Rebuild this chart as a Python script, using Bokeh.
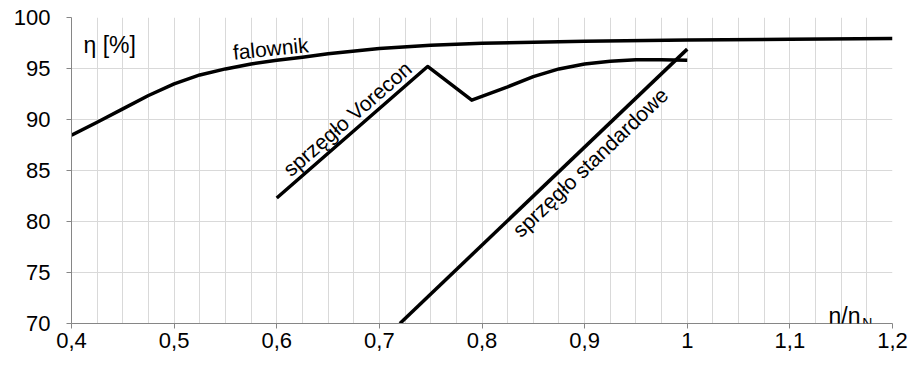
from bokeh.plotting import figure
from bokeh.models import FixedTicker, CustomJSTickFormatter, Label, Range1d
from bokeh.embed import file_html
from bokeh.resources import INLINE
import math

# ---- data ----
falownik_x = [0.40, 0.425, 0.45, 0.475, 0.50, 0.525, 0.55, 0.575, 0.60, 0.625, 0.65, 0.70, 0.75,
              0.80, 0.90, 1.00, 1.10, 1.20]
falownik_y = [88.45, 89.73, 91.04, 92.35, 93.5, 94.37, 94.96, 95.45, 95.8, 96.1, 96.45, 96.95, 97.28,
              97.48, 97.67, 97.8, 97.87, 97.94]

vorecon_x = [0.60, 0.747, 0.790, 0.825, 0.85, 0.875, 0.90, 0.925, 0.95, 0.975, 1.00]
vorecon_y = [82.3, 95.2, 91.9, 93.2, 94.2, 94.96, 95.45, 95.7, 95.85, 95.85, 95.8]

standard_x = [0.72, 1.00]
standard_y = [70.0, 96.9]

x_ticks = [0.4, 0.5, 0.6, 0.7, 0.8, 0.9, 1.0, 1.1, 1.2]
y_ticks = [70, 75, 80, 85, 90, 95, 100]
x_grid = [round(0.4 + 0.025 * i, 3) for i in range(33)]

FONT = "Liberation Sans"

p = figure(width=912, height=369, output_backend="svg", toolbar_location=None,
           x_range=Range1d(0.4, 1.2), y_range=Range1d(70, 100),
           min_border_left=71, min_border_right=20, min_border_top=17, min_border_bottom=46)
p.outline_line_color = None
p.background_fill_color = "white"
p.border_fill_color = "white"

p.xaxis.ticker = FixedTicker(ticks=x_ticks)
p.yaxis.ticker = FixedTicker(ticks=y_ticks)
p.xaxis.formatter = CustomJSTickFormatter(code="""
const v = Math.round(tick*10)/10;
return v.toString().replace('.', ',');
""")
for ax in (p.xaxis, p.yaxis):
    ax.axis_line_color = "#868686"
    ax.major_tick_line_color = "#868686"
    ax.major_tick_out = 5
    ax.major_tick_in = 0
    ax.minor_tick_line_color = None
    ax.major_label_text_font = FONT
    ax.major_label_text_font_size = "22px"
    ax.major_label_text_color = "#000000"
p.yaxis.major_label_standoff = 16
p.xaxis.major_label_standoff = 4

p.xgrid.ticker = FixedTicker(ticks=x_grid)
p.ygrid.ticker = FixedTicker(ticks=y_ticks)
p.xgrid.grid_line_color = "#d9d9d9"
p.ygrid.grid_line_color = "#d9d9d9"

p.line(falownik_x, falownik_y, line_color="black", line_width=3.5, line_join="round")
p.line(vorecon_x, vorecon_y, line_color="black", line_width=3.5, line_join="round")
p.line(standard_x, standard_y, line_color="black", line_width=3.5)


def lab(x, y, t, size, angle=0.0):
    p.add_layout(Label(x=x, y=y, text=t, text_font=FONT, text_font_size=size,
                       text_color="#000000", text_align="left", text_baseline="alphabetic",
                       angle=math.radians(angle)))

lab(0.4117, 97.3, "η [%]", "23px")
lab(0.5573, 96.59, "falownik", "21px", 5.8)
lab(0.6091, 84.86, "sprzęgło Vorecon", "21px", 41)
lab(0.8330, 78.87, "sprzęgło standardowe", "21px", 43.6)
lab(1.1376, 70.69, "n/n", "23px")
lab(1.1705, 70.04, "N", "14px")

open("out.html", "w").write(file_html(p, INLINE))
